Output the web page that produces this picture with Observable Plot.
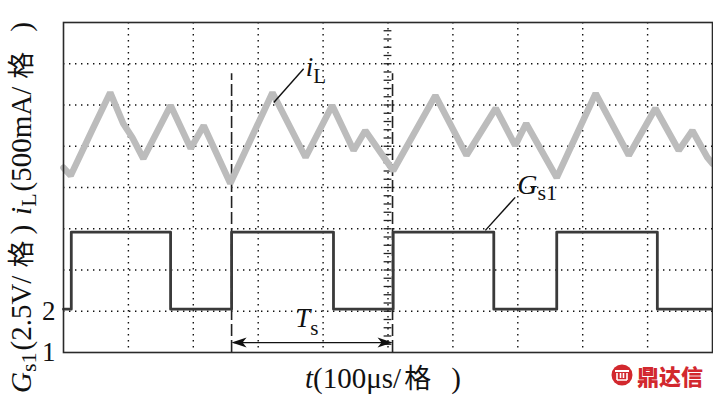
<!DOCTYPE html>
<html>
<head>
<meta charset="utf-8">
<script src="https://cdn.jsdelivr.net/npm/d3@7"></script>
<script src="https://cdn.jsdelivr.net/npm/@observablehq/plot@0.6"></script>
<style>
  html, body { margin: 0; padding: 0; background: #fff; }
  #chart svg { display: block; }
</style>
</head>
<body>
<div id="chart"></div>
<script>
// ---- data (time in µs, amplitude in screen divisions; level 1 = bottom of screen) ----
const iL_t = [0, 11, 46, 72, 92, 106, 123, 165, 196, 216, 257, 322, 373, 414, 447, 465, 508, 573, 621, 666, 696, 713, 760, 820, 871, 912, 948, 969, 992, 1000];
const iL_v = [5.48, 5.29, 6.45, 7.30, 6.55, 6.21, 5.70, 6.99, 5.95, 6.50, 5.10, 7.30, 5.73, 6.99, 5.90, 6.38, 5.41, 7.23, 5.78, 6.92, 6.02, 6.55, 5.24, 7.28, 5.78, 6.92, 5.90, 6.38, 5.73, 5.58];
const gate_t = [0, 12, 165, 259, 416, 508, 663, 760, 915, 1000];
const gate_v = [2.05, 3.92, 2.05, 3.92, 2.05, 3.92, 2.05, 3.92, 2.05, 2.05];
const xGrid = [100, 200, 300, 400, 500, 600, 700, 800, 900];
const yGrid = [2, 3, 4, 5, 6, 7, 8];
const yTicks = [1, 2];
const yTickLabels = ["1", "2"];
const markerT = [259, 507];      // Ts cursor positions
const markerTop = 7.76;
const tsLevel = 1.24;
const centerTicks = d3.range(1.2, 8.81, 0.2);

const iL = iL_t.map((t, i) => ({t, v: iL_v[i]}));
const gate = gate_t.map((t, i) => ({t, v: gate_v[i]}));

const arrowLeft = {draw(ctx) { ctx.moveTo(0, 0); ctx.lineTo(15, -5); ctx.lineTo(11, 0); ctx.lineTo(15, 5); ctx.closePath(); }};
const arrowRight = {draw(ctx) { ctx.moveTo(0, 0); ctx.lineTo(-15, -5); ctx.lineTo(-11, 0); ctx.lineTo(-15, 5); ctx.closePath(); }};

const dotted = {stroke: "#111", strokeOpacity: 1, strokeWidth: 1.4, strokeDasharray: "1.4,4.6"};

const plot = Plot.plot({
  width: 713,
  height: 397,
  marginLeft: 63,
  marginRight: 1,
  marginTop: 22,
  marginBottom: 45,
  style: {fontFamily: "'Liberation Serif', 'Noto Sans CJK SC', serif", background: "#fff"},
  x: {domain: [0, 1000], axis: null},
  y: {domain: [1, 9], axis: null},
  marks: [
    Plot.gridX(xGrid, dotted),
    Plot.gridY(yGrid, dotted),
    Plot.axisY(yTicks, {tickSize: 0, tickPadding: 8, fontSize: 27, tickFormat: d => yTickLabels[yTicks.indexOf(d)], fill: "#111", label: null}),
    // centre graticule minor ticks
    Plot.ruleY(centerTicks, {y: d => d, x1: 494, x2: 506, stroke: "#222", strokeWidth: 1.3}),
    // Ts cursors
    Plot.ruleX(markerT, {x: d => d, y1: 1, y2: markerTop, stroke: "#222", strokeWidth: 1.6, strokeDasharray: "12,4"}),
    // inductor current
    Plot.line(iL, {x: "t", y: "v", stroke: "#bcbcbc", strokeWidth: 6.5, strokeLinejoin: "miter"}),
    // gate signal
    Plot.line(gate, {x: "t", y: "v", curve: "step-after", stroke: "#3a3a3a", strokeWidth: 2.8}),
    // leaders
    Plot.link([{x1: 324, y1: 7.06, x2: 370, y2: 7.88}, {x1: 650, y1: 3.96, x2: 696, y2: 4.76}],
      {x1: "x1", y1: "y1", x2: "x2", y2: "y2", stroke: "#111", strokeWidth: 1.4}),
    // Ts arrow
    Plot.link([{x1: 262, x2: 504, y: tsLevel}], {x1: "x1", x2: "x2", y1: "y", y2: "y", stroke: "#111", strokeWidth: 1.4}),
    Plot.dot([{x: markerT[0], y: tsLevel}], {x: "x", y: "y", symbol: arrowLeft, fill: "#111", stroke: "none"}),
    Plot.dot([{x: markerT[1], y: tsLevel}], {x: "x", y: "y", symbol: arrowRight, fill: "#111", stroke: "none"}),
    Plot.frame({stroke: "#2a2a2a", strokeWidth: 1.6})
  ]
});

document.getElementById("chart").appendChild(plot);

const sx = plot.scale("x"), sy = plot.scale("y");
const svg = d3.select(plot);
const serif = "'Liberation Serif', 'Noto Sans CJK SC', serif";

function label(x, y, parts, size, anchor) {
  const t = svg.append("text").attr("x", x).attr("y", y)
    .attr("font-family", serif).attr("font-size", size).attr("fill", "#111")
    .attr("text-anchor", anchor || "start");
  parts.forEach(p => {
    const ts = t.append("tspan").text(p.s);
    if (p.i) ts.attr("font-style", "italic");
    if (p.size) ts.attr("font-size", p.size);
    if (p.dy) ts.attr("dy", p.dy);
    if (p.dx) ts.attr("dx", p.dx);
    if (p.cjk) ts.attr("font-family", "'Noto Sans CJK SC', sans-serif");
  });
  return t;
}

// i_L annotation
label(sx.apply(374), sy.apply(7.7), [{s: "i", i: true}, {s: "L", size: 21, dy: 7}], 27);
// G_s1 annotation
label(sx.apply(700), sy.apply(4.83), [{s: "G", i: true}, {s: "s1", size: 22, dy: 6}], 28);
// T_s annotation
label(sx.apply(358), sy.apply(1.61), [{s: "T", i: true}, {s: "s", size: 21, dy: 8}], 27);

// x-axis title
label(305, 388, [{s: "t", i: true}, {s: "(100μs/"}, {s: "格", cjk: true, size: 27, dx: 3}, {s: ")", dx: 20}], 29);

// y-axis title (rotated)
const yt = label(0, 0, [
  {s: "G", i: true}, {s: "s1", size: 22, dy: 5}, {s: "(2.5V/", dy: -5, dx: 2}, {s: "格", cjk: true, size: 27, dx: 8},
  {s: ")", dx: 6}, {s: "i", i: true, dx: 10}, {s: "L", size: 22, dy: 5}, {s: "(500mA/", dy: -5, dx: 2},
  {s: "格", cjk: true, size: 27, dx: 8}, {s: ")", dx: 20}
], 29);
yt.attr("transform", "translate(31,393) rotate(-90)");

// watermark logo (shapes) + name
const logo = svg.append("g").attr("transform", "translate(622,375)");
logo.append("circle").attr("r", 10.5).attr("fill", "#d2282e");
logo.append("rect").attr("x", -7).attr("y", -5).attr("width", 14).attr("height", 2).attr("fill", "#fff");
logo.append("path").attr("d", "M-5,-2 L-5,5 M-1.5,-2 L-1.5,3 M1.5,-2 L1.5,3 M5,-2 L5,5 M-5,5 L5,5").attr("stroke", "#fff").attr("stroke-width", 1.6).attr("fill", "none");
svg.append("text").attr("x", 637).attr("y", 385).attr("text-anchor", "start")
  .attr("font-family", "'Noto Sans CJK SC', sans-serif").attr("font-size", 22).attr("font-weight", 900)
  .attr("fill", "#d2282e").text("鼎达信");
</script>
</body>
</html>
